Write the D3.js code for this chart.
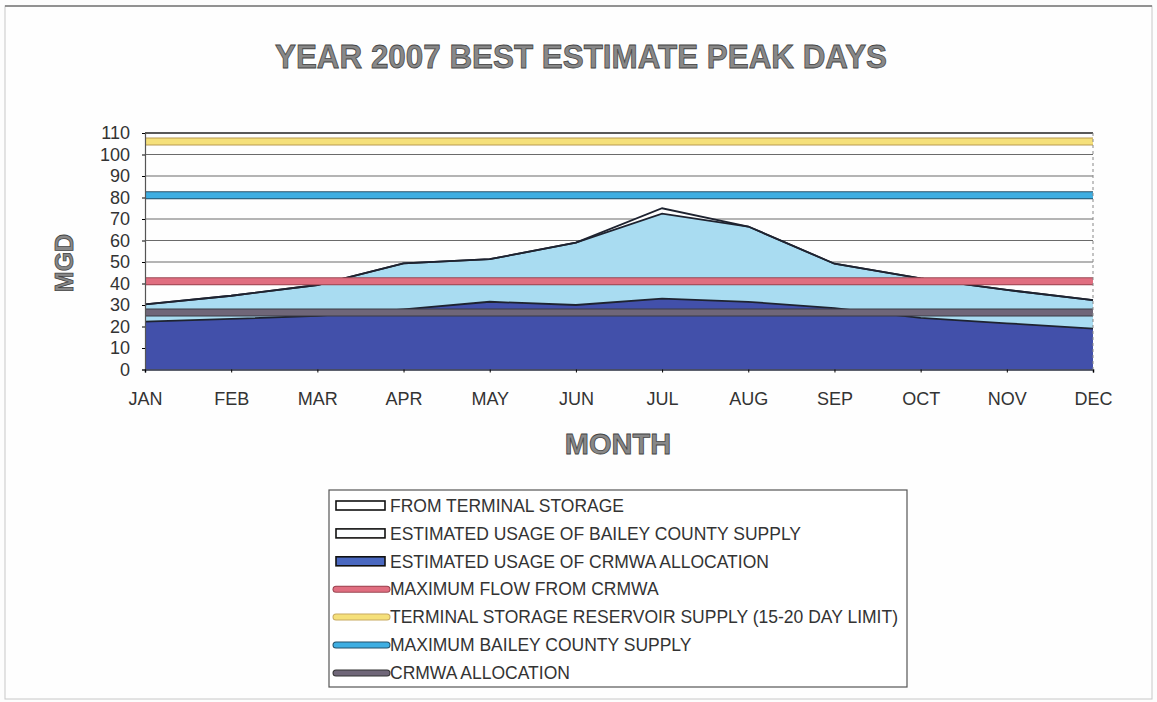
<!DOCTYPE html>
<html>
<head>
<meta charset="utf-8">
<script src="https://cdn.jsdelivr.net/npm/d3@7"></script>
<style>
  body { margin: 0; background: #fdfdfd; }
  svg { display: block; font-family: "Liberation Sans", Arial, sans-serif; }
</style>
</head>
<body>
<div id="chart"></div>
<script>
const width = 1157, height = 702;

// Data (MGD)
const months = ["JAN", "FEB", "MAR", "APR", "MAY", "JUN", "JUL", "AUG", "SEP", "OCT", "NOV", "DEC"];
const crmwaUsage    = [22.3, 23.5, 25, 28, 31.5, 30, 33, 31.5, 28.5, 24, 21.5, 19];
const baileyUsage   = [8, 10.8, 14.3, 21.4, 19.8, 29, 39.5, 35, 20.7, 18.4, 15.5, 13.3];
const terminalStore = [0, 0, 0, 0, 0, 0, 2.5, 0, 0, 0, 0, 0];
const maxFlowCrmwa     = 41;
const terminalReservoir = 106;
const maxBailey        = 81;
const crmwaAllocation  = 26.5;
const yTicks = [0, 10, 20, 30, 40, 50, 60, 70, 80, 90, 100, 110];

const svg = d3.select("#chart")
    .append("svg")
    .attr("width", width)
    .attr("height", height);

// page frame
svg.append("rect")
    .attr("x", 5).attr("y", 6)
    .attr("width", width - 10).attr("height", height - 9)
    .attr("fill", "#fefefe")
    .attr("stroke", "#c8c8c8");
svg.append("line")
    .attr("x1", 5).attr("x2", width - 5)
    .attr("y1", 6).attr("y2", 6)
    .attr("stroke", "#777").attr("stroke-width", 1.5);

const x = d3.scalePoint()
    .domain(months)
    .range([145, 1093]);

const y = d3.scaleLinear()
    .domain([0, 110])
    .range([369.5, 133]);

// Gridlines
svg.append("g")
    .selectAll("line")
    .data(yTicks.filter(t => t > 0))
    .join("line")
    .attr("x1", 145).attr("x2", 1093)
    .attr("y1", d => y(d)).attr("y2", d => y(d))
    .attr("stroke", d => d === 110 ? "#222" : "#6a6a6a")
    .attr("stroke-width", d => d === 110 ? 1.6 : 1);

// Stacked areas
const table = months.map((m, i) => ({
    month: m,
    crmwa: crmwaUsage[i],
    bailey: baileyUsage[i],
    terminal: terminalStore[i]
}));
const stack = d3.stack().keys(["crmwa", "bailey", "terminal"]);
const layers = stack(table);
const fills = { crmwa: "#4250aa", bailey: "#a9dcf1", terminal: "#ffffff" };

const area = d3.area()
    .x(d => x(d.data.month))
    .y0(d => y(d[0]))
    .y1(d => y(d[1]));
const topLine = d3.line()
    .x(d => x(d.data.month))
    .y(d => y(d[1]));

layers.forEach(layer => {
    svg.append("path")
        .datum(layer)
        .attr("fill", fills[layer.key])
        .attr("d", area);
});
layers.forEach(layer => {
    svg.append("path")
        .datum(layer)
        .attr("fill", "none")
        .attr("stroke", "#1e2330")
        .attr("stroke-width", 1.8)
        .attr("d", topLine);
});

// Reference bands (thick lines with a dark edge)
const bands = [
    { value: crmwaAllocation, color: "#6f6678", edge: "#3a3a44" },
    { value: maxFlowCrmwa, color: "#e06e80", edge: "#9a4450" },
    { value: maxBailey, color: "#3eaee2", edge: "#24506a" },
    { value: terminalReservoir, color: "#f5e07a", edge: "#b89a50" }
];
bands.forEach(b => {
    svg.append("line")
        .attr("x1", 145).attr("x2", 1093)
        .attr("y1", y(b.value)).attr("y2", y(b.value))
        .attr("stroke", b.edge).attr("stroke-width", 8);
    svg.append("line")
        .attr("x1", 145).attr("x2", 1093)
        .attr("y1", y(b.value)).attr("y2", y(b.value))
        .attr("stroke", b.color).attr("stroke-width", 6);
});

// Axes
const yAxis = svg.append("g")
    .attr("transform", "translate(145,0)")
    .call(d3.axisLeft(y).tickValues(yTicks).tickSize(3).tickPadding(12));
yAxis.select(".domain").attr("stroke", "#555").attr("stroke-width", 1.2);
yAxis.selectAll("text")
    .style("font-size", "18px")
    .attr("fill", "#333");

const xAxis = svg.append("g")
    .attr("transform", `translate(0,${y(0)})`)
    .call(d3.axisBottom(x).tickSize(3).tickPadding(20));
xAxis.select(".domain").attr("stroke", "#2a2f40").attr("stroke-width", 1.6);
xAxis.selectAll("text")
    .style("font-size", "18px")
    .attr("fill", "#333");

// right frame
svg.append("line")
    .attr("x1", 1093).attr("x2", 1093)
    .attr("y1", y(110)).attr("y2", y(0))
    .attr("stroke", "#888").attr("stroke-dasharray", "3,3");

// Titles
svg.append("text")
    .attr("x", 581).attr("y", 68)
    .attr("text-anchor", "middle")
    .attr("textLength", 612)
    .attr("lengthAdjust", "spacingAndGlyphs")
    .style("font-size", "34px")
    .style("font-weight", "bold")
    .attr("fill", "#888")
    .attr("stroke", "#444")
    .attr("stroke-width", 0.8)
    .text("YEAR 2007 BEST ESTIMATE PEAK DAYS");

svg.append("text")
    .attr("x", 618).attr("y", 454)
    .attr("text-anchor", "middle")
    .style("font-size", "29px")
    .style("font-weight", "bold")
    .attr("fill", "#888")
    .attr("stroke", "#444")
    .attr("stroke-width", 0.8)
    .text("MONTH");

svg.append("text")
    .attr("transform", "translate(73,263) rotate(-90)")
    .attr("text-anchor", "middle")
    .style("font-size", "25px")
    .style("font-weight", "bold")
    .attr("fill", "#888")
    .attr("stroke", "#444")
    .attr("stroke-width", 0.8)
    .text("MGD");

// Legend
const legendItems = [
    { name: "FROM TERMINAL STORAGE", type: "rect", fill: "#ffffff" },
    { name: "ESTIMATED USAGE OF BAILEY COUNTY SUPPLY", type: "rect", fill: "#fbfdff" },
    { name: "ESTIMATED USAGE OF CRMWA ALLOCATION", type: "rect", fill: "#4a68c0" },
    { name: "MAXIMUM FLOW FROM CRMWA", type: "line", color: "#e06e80", edge: "#9a4450" },
    { name: "TERMINAL STORAGE RESERVOIR SUPPLY (15-20 DAY LIMIT)", type: "line", color: "#f5e07a", edge: "#c8aa60" },
    { name: "MAXIMUM BAILEY COUNTY SUPPLY", type: "line", color: "#3eaee2", edge: "#24506a" },
    { name: "CRMWA ALLOCATION", type: "line", color: "#6f6678", edge: "#333" }
];

const legend = svg.append("g");
legend.append("rect")
    .attr("x", 329).attr("y", 490)
    .attr("width", 578).attr("height", 197)
    .attr("fill", "#fff")
    .attr("stroke", "#555")
    .attr("stroke-width", 1.2);

legendItems.forEach((item, i) => {
    const row = legend.append("g")
        .attr("transform", `translate(0, ${505.5 + i * 27.9})`);
    if (item.type === "rect") {
        row.append("rect")
            .attr("x", 336).attr("y", -4.5)
            .attr("width", 49).attr("height", 9)
            .attr("fill", item.fill)
            .attr("stroke", "#111")
            .attr("stroke-width", 1.6);
    } else {
        row.append("line")
            .attr("x1", 336).attr("x2", 387)
            .attr("stroke", item.edge)
            .attr("stroke-width", 7)
            .attr("stroke-linecap", "round");
        row.append("line")
            .attr("x1", 336).attr("x2", 387)
            .attr("stroke", item.color)
            .attr("stroke-width", 5)
            .attr("stroke-linecap", "round");
    }
    row.append("text")
        .attr("x", 390)
        .attr("y", 6.2)
        .style("font-size", "17.5px")
        .attr("fill", "#333")
        .text(item.name);
});
</script>
</body>
</html>
